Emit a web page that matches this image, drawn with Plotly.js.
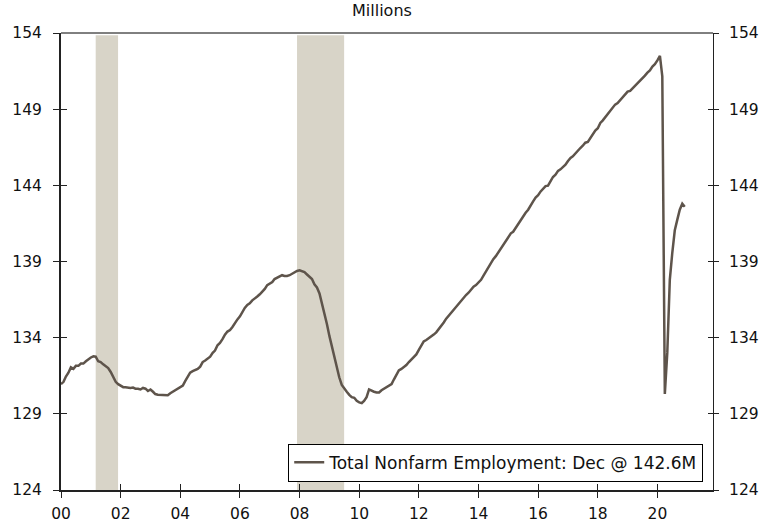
<!DOCTYPE html>
<html>
<head>
<meta charset="utf-8">
<script src="https://cdn.plot.ly/plotly-3.0.1.min.js"></script>
<style>html,body{margin:0;padding:0;background:#fff;}#chart{width:775px;height:522px;}</style>
</head>
<body>
<div id="chart"></div>
<script>
// Total nonfarm employment, millions, monthly (Jan..Dec)
const y2000 = [130.95,131.10,131.45,131.70,132.05,131.95,132.15,132.15,132.30,132.30,132.45,132.60];
const y2001 = [132.70,132.78,132.75,132.45,132.40,132.25,132.15,132.00,131.75,131.40,131.10,130.95];
const y2002 = [130.85,130.75,130.75,130.70,130.70,130.72,130.65,130.65,130.60,130.70,130.65,130.50];
const y2003 = [130.60,130.45,130.30,130.25,130.25,130.25,130.22,130.22,130.35,130.45,130.50,130.60];
const y2004 = [130.75,130.85,131.15,131.40,131.70,131.80,131.85,131.95,132.10,132.40,132.50,132.65];
const y2005 = [132.75,133.00,133.15,133.50,133.65,133.90,134.20,134.40,134.50,134.70,135.00,135.20];
const y2006 = [135.40,135.70,135.95,136.15,136.25,136.45,136.55,136.70,136.85,137.00,137.20,137.45];
const y2007 = [137.57,137.65,137.85,137.95,138.05,138.10,138.05,138.05,138.10,138.20,138.30,138.38];
const y2008 = [138.42,138.35,138.30,138.15,138.00,137.85,137.50,137.30,136.90,136.30,135.60,134.90];
const y2009 = [134.10,133.40,132.60,131.90,131.40,130.90,130.65,130.45,130.25,130.10,130.05,129.85];
const y2010 = [129.75,129.70,129.85,130.10,130.60,130.50,130.45,130.40,130.40,130.55,130.65,130.80];
const y2011 = [130.85,130.95,131.25,131.60,131.85,131.95,132.08,132.20,132.40,132.55,132.70,132.90];
const y2012 = [133.20,133.50,133.75,133.85,133.95,134.05,134.20,134.35,134.55,134.80,135.00,135.25];
const y2013 = [135.45,135.70,135.85,136.05,136.25,136.45,136.60,136.80,136.95,137.15,137.35,137.45];
const y2014 = [137.60,137.80,138.05,138.35,138.60,138.90,139.15,139.35,139.60,139.85,140.15,140.40];
const y2015 = [140.60,140.85,140.95,141.20,141.50,141.70,141.95,142.20,142.40,142.70,142.95,143.20];
const y2016 = [143.35,143.60,143.80,143.95,143.98,144.25,144.55,144.70,144.95,145.05,145.20,145.35];
const y2017 = [145.60,145.80,145.90,146.10,146.25,146.45,146.60,146.80,146.85,147.10,147.30,147.60];
const y2018 = [147.75,148.10,148.25,148.45,148.70,148.90,149.05,149.30,149.40,149.60,149.80,149.95];
const y2019 = [150.15,150.20,150.35,150.55,150.65,150.85,151.00,151.20,151.40,151.55,151.80,151.95];
const y2020 = [152.20,152.50,151.15,130.30,133.00,137.80,139.55,141.05,141.75,142.40,142.80,142.60];

const yearBlocks = [y2000,y2001,y2002,y2003,y2004,y2005,y2006,y2007,y2008,y2009,y2010,
                    y2011,y2012,y2013,y2014,y2015,y2016,y2017,y2018,y2019,y2020];
const firstYear = 2000;

// Recession periods (shaded)
const recStart = ['2001-03-01','2007-12-01'];
const recEnd   = ['2001-11-30','2009-06-30'];

const seriesName = 'Total Nonfarm Employment: Dec @ 142.6M';
const unitLabel = 'Millions';
const yTicks = [124,129,134,139,144,149,154];

const dates = [], vals = [];
yearBlocks.forEach((blk, i) => {
  blk.forEach((v, m) => {
    const mm = String(m + 1).padStart(2, '0');
    dates.push((firstYear + i) + '-' + mm + '-01');
    vals.push(v);
  });
});

const lineColor = '#5e544b';
const font = {family: 'DejaVu Sans, Verdana, sans-serif', size: 15.5, color: '#111'};
const xRange = ['2000-01-01', '2021-11-12'];
const yRange = [124, 154];

const ghost = (xa, ya) => ({x: dates, y: vals, xaxis: xa, yaxis: ya, type: 'scatter', mode: 'lines',
  line: {width: 0, color: 'rgba(0,0,0,0)'}, hoverinfo: 'skip', showlegend: false});

const traces = [
  {x: dates, y: vals, type: 'scatter', mode: 'lines', name: seriesName,
   line: {color: lineColor, width: 2.5}, xaxis: 'x', yaxis: 'y'},
  ghost('x', 'y2'), ghost('x2', 'y3'), ghost('x2', 'y4')
];

const shapes = recStart.map((s, i) => ({
  type: 'rect', xref: 'x', yref: 'y', x0: s, x1: recEnd[i], y0: 124, y1: 153.85,
  fillcolor: '#d8d4c8', line: {width: 0}, layer: 'below'
}));
shapes.push({type: 'line', xref: 'paper', yref: 'paper', x0: 0, x1: 1, y0: 1, y1: 1,
  line: {color: '#000', width: 1}});

const baseY = {range: yRange, tickvals: yTicks, showgrid: false, zeroline: false, fixedrange: true};
const layout = {
  width: 775, height: 522,
  margin: {l: 61, r: 62, t: 33, b: 32, pad: 0},
  paper_bgcolor: '#fff', plot_bgcolor: '#fff',
  font: font,
  showlegend: true,
  legend: {x: 0.985, y: 0.018, xanchor: 'right', yanchor: 'bottom',
    bordercolor: '#000', borderwidth: 1, bgcolor: '#fff',
    font: {family: font.family, size: 17, color: '#111'}},
  xaxis: {type: 'date', range: xRange, tick0: '2000-01-01', dtick: 'M24', tickformat: '%y',
    showgrid: false, zeroline: false, showline: true, linecolor: '#222', linewidth: 2,
    ticks: 'outside', ticklen: 6, tickwidth: 1, tickcolor: '#222', ticklabelstandoff: 2},
  xaxis2: {type: 'date', overlaying: 'x', anchor: 'y', range: xRange, tick0: '2000-01-01', dtick: 'M24',
    showgrid: false, zeroline: false, showline: false, showticklabels: false,
    ticks: 'inside', ticklen: 6, tickwidth: 1, tickcolor: '#222'},
  yaxis: Object.assign({}, baseY, {side: 'left', showline: true, linecolor: '#222', linewidth: 2,
    ticks: 'outside', ticklen: 6, tickwidth: 1, tickcolor: '#222', ticklabelstandoff: 8}),
  yaxis2: Object.assign({}, baseY, {overlaying: 'y', side: 'right', anchor: 'x', showline: true,
    linecolor: '#222', linewidth: 1, ticks: 'outside', ticklen: 5, tickwidth: 1, tickcolor: '#222',
    ticklabelstandoff: 7}),
  yaxis3: Object.assign({}, baseY, {overlaying: 'y', side: 'left', anchor: 'x', showline: false,
    showticklabels: false, ticks: 'inside', ticklen: 6, tickwidth: 1, tickcolor: '#222'}),
  yaxis4: Object.assign({}, baseY, {overlaying: 'y', side: 'right', anchor: 'x', showline: false,
    showticklabels: false, ticks: 'inside', ticklen: 5, tickwidth: 1, tickcolor: '#222'}),
  shapes: shapes,
  annotations: [{text: unitLabel, xref: 'paper', yref: 'paper', x: 0.492, y: 1.049,
    xanchor: 'center', yanchor: 'middle', showarrow: false,
    font: {family: font.family, size: 16, color: '#111'}}]
};

Plotly.newPlot('chart', traces, layout, {displayModeBar: false, staticPlot: true});
</script>
</body>
</html>
